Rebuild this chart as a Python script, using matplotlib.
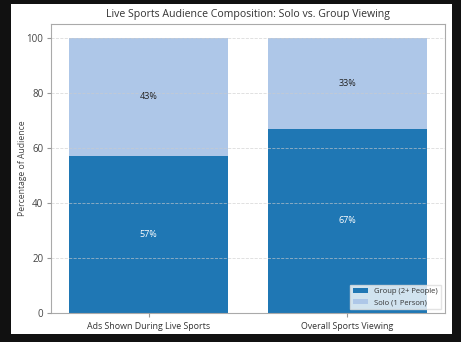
import matplotlib
matplotlib.use("Agg")
import matplotlib.pyplot as plt
from matplotlib.patches import Rectangle

plt.rcParams['font.family'] = ['Open Sans', 'DejaVu Sans']

categories = ["Ads Shown During Live Sports", "Overall Sports Viewing"]
group_vals = [57, 67]
solo_vals = [43, 33]
series_names = ["Group (2+ People)", "Solo (1 Person)"]
yticks = [0, 20, 40, 60, 80, 100]

W, H = 461, 342
fig = plt.figure(figsize=(W / 100, H / 100), dpi=100, facecolor="#111111")
fig.patches.append(Rectangle((11 / W, 1 - 334 / H), (452 - 11) / W, (334 - 4) / H,
                             transform=fig.transFigure, facecolor="white",
                             edgecolor="none", zorder=-10))
ax = fig.add_axes([51 / W, 1 - 313 / H, (445 - 51) / W, (313 - 24) / H])
ax.set_facecolor("white")

x = list(range(len(categories)))
b1 = ax.bar(x, group_vals, width=0.8, color="#1f77b4", label=series_names[0])
b2 = ax.bar(x, solo_vals, width=0.8, bottom=group_vals, color="#aec7e8", label=series_names[1])

for i in x:
    ax.text(i, group_vals[i] / 2, f"{group_vals[i]}%", ha="center", va="center",
            color="white", fontsize=6.5)
    ax.text(i, group_vals[i] + solo_vals[i] / 2, f"{solo_vals[i]}%", ha="center", va="center",
            color="#222222", fontsize=6.5)

ax.set_xlim(-0.49, 1.49)
ax.set_ylim(0, 105)
ax.set_yticks(yticks)
ax.set_xticks(x)
ax.set_xticklabels(categories, fontsize=6.4, color="#333333")
ax.tick_params(axis="y", labelsize=7, labelcolor="#444444", color="#999999", length=3, pad=2.5)
ax.tick_params(axis="x", color="#999999", length=3)
ax.set_ylabel("Percentage of Audience", fontsize=6.2, color="#444444")
ax.yaxis.set_label_coords(-0.061, 0.5)
ax.set_title("Live Sports Audience Composition: Solo vs. Group Viewing", fontsize=7.6,
             color="#333333", pad=5)
ax.yaxis.grid(True, linestyle="--", color="#cccccc", linewidth=0.6, alpha=0.7)
ax.set_axisbelow(False)
for s in ax.spines.values():
    s.set_color("#aaaaaa")
    s.set_linewidth(0.8)

leg = ax.legend(loc="lower right", fontsize=5.5, frameon=True, framealpha=0.8,
                edgecolor="#dddddd", fancybox=False)
for t in leg.get_texts():
    t.set_color("#333333")

fig.savefig("out.png", dpi=100, facecolor=fig.get_facecolor())
